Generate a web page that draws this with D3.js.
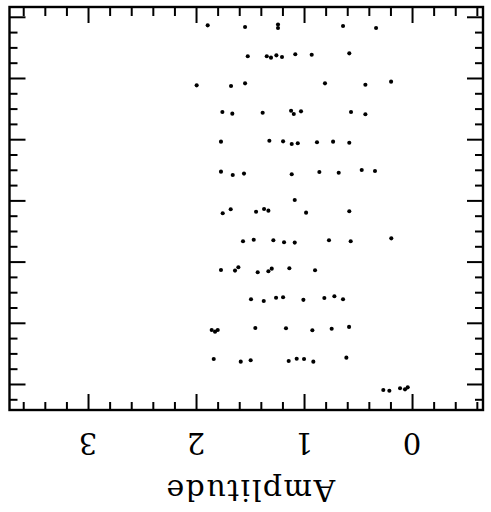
<!DOCTYPE html>
<html><head><meta charset="utf-8">
<script src="https://cdn.jsdelivr.net/npm/d3@7/dist/d3.min.js"></script>
<style>html,body{margin:0;padding:0;background:#fff;} svg{display:block;}</style>
</head><body>
<script>
// Tick labels and title
const xTickValues = [0, 1, 2, 3];
const xTickLabels = ["0", "1", "2", "3"];
const axisTitle = "Amplitude";

// Amplitude of every dot, one list per row (top row first)
const rowAmplitudes = [
  [1.892, 1.546, 1.241, 1.241, 0.639, 0.333],
  [1.521, 1.345, 1.306, 1.256, 1.204, 1.081, 0.929, 0.581],
  [1.994, 1.676, 1.546, 0.806, 0.432, 0.194],
  [1.756, 1.664, 1.383, 1.120, 1.095, 1.028, 0.565, 0.432],
  [1.769, 1.321, 1.194, 1.114, 1.058, 0.880, 0.731, 0.581],
  [1.769, 1.660, 1.556, 1.114, 0.858, 0.679, 0.466, 0.343],
  [1.753, 1.679, 1.444, 1.370, 1.330, 1.086, 0.981, 0.581],
  [1.565, 1.466, 1.284, 1.185, 1.086, 0.769, 0.568, 0.192],
  [1.769, 1.639, 1.608, 1.429, 1.330, 1.299, 1.136, 0.898],
  [1.491, 1.373, 1.259, 1.194, 1.006, 0.812, 0.719, 0.639],
  [1.855, 1.824, 1.799, 1.451, 1.167, 0.923, 0.744, 0.583],
  [1.836, 1.586, 1.494, 1.142, 1.068, 1.000, 0.914, 0.608],
  [0.266, 0.210, 0.111, 0.065, 0.040]
];

// Vertical position of every dot (in vertical tick units), same order
const rowPositions = [
  [0.56, 0.67, 0.50, 0.73, 0.60, 0.73],
  [2.58, 2.58, 2.67, 2.52, 2.63, 2.45, 2.48, 2.39],
  [4.48, 4.52, 4.35, 4.35, 4.44, 4.24],
  [6.22, 6.33, 6.27, 6.14, 6.35, 6.18, 6.22, 6.37],
  [8.16, 8.10, 8.14, 8.31, 8.27, 8.20, 8.16, 8.23],
  [10.12, 10.34, 10.25, 10.29, 10.14, 10.19, 10.01, 10.08],
  [12.84, 12.58, 12.74, 12.56, 12.67, 11.97, 12.80, 12.71],
  [14.67, 14.57, 14.61, 14.74, 14.76, 14.61, 14.67, 14.48],
  [16.55, 16.59, 16.37, 16.70, 16.63, 16.46, 16.44, 16.57],
  [18.46, 18.58, 18.36, 18.33, 18.50, 18.38, 18.27, 18.46],
  [20.47, 20.58, 20.47, 20.34, 20.36, 20.49, 20.39, 20.27],
  [22.37, 22.54, 22.45, 22.50, 22.35, 22.37, 22.54, 22.28],
  [24.39, 24.44, 24.28, 24.35, 24.22]
];

const W = 491, H = 512;
const L = 9.5, R = 483, T = 7, B = 410;
const x = d3.scaleLinear().domain([3.727, -0.657]).range([L, R]);
const y = d3.scaleLinear().domain([-0.64, 25.7]).range([T, B]);

const svg = d3.select("body").append("svg").attr("width", W).attr("height", H);

const points = [];
rowAmplitudes.forEach((amps, i) => amps.forEach((a, j) => points.push({a, p: rowPositions[i][j]})));

svg.append("g").selectAll("circle").data(points).join("circle")
  .attr("cx", d => x(d.a)).attr("cy", d => y(d.p)).attr("r", 2.05).attr("fill", "#000");

const xMinor = d3.range(-3, 19).map(i => +(i * 0.2).toFixed(1)).filter(v => !xTickValues.includes(v));
const yMinor = d3.range(0, 26).filter(v => v % 4 !== 0);
const yMajor = d3.range(0, 25, 4);

function axisG(axis, tx, ty) {
  const g = svg.append("g").attr("transform", `translate(${tx},${ty})`).call(axis);
  g.select(".domain").remove();
  g.selectAll("text").remove();
  g.selectAll("line").attr("stroke", "#000").attr("stroke-width", 2);
  return g;
}
// bottom axis, ticks pointing inward
axisG(d3.axisBottom(x).tickValues(xMinor).tickSize(-8), 0, B);
axisG(d3.axisBottom(x).tickValues(xTickValues).tickSize(-16), 0, B);
// top axis
axisG(d3.axisTop(x).tickValues(xMinor).tickSize(-9), 0, T);
axisG(d3.axisTop(x).tickValues(xTickValues).tickSize(-16), 0, T);
// left axis
axisG(d3.axisLeft(y).tickValues(yMinor).tickSize(-8), L, 0);
axisG(d3.axisLeft(y).tickValues(yMajor).tickSize(-16), L, 0);
// right axis
axisG(d3.axisRight(y).tickValues(yMinor).tickSize(-8), R, 0);
axisG(d3.axisRight(y).tickValues(yMajor).tickSize(-16), R, 0);

svg.append("rect").attr("x", L).attr("y", T).attr("width", R - L).attr("height", B - T)
  .attr("fill", "none").attr("stroke", "#000").attr("stroke-width", 2.4);

// upside-down tick labels
const font = "'DejaVu Serif', serif";
const labY = 433;
svg.append("g").selectAll("text").data(xTickValues).join("text")
  .attr("x", d => x(d)).attr("y", labY)
  .attr("transform", d => `rotate(180,${x(d)},${labY})`)
  .attr("text-anchor", "middle").attr("font-family", font).attr("font-size", 29)
  .attr("fill", "#000").text((d, i) => xTickLabels[i]);

const tY = 480;
svg.append("text").attr("x", x(1.5)).attr("y", tY)
  .attr("transform", `rotate(180,${x(1.5)},${tY})`)
  .attr("text-anchor", "middle").attr("font-family", font).attr("font-size", 30)
  .attr("letter-spacing", 1.5).attr("fill", "#000").text(axisTitle);
</script>
</body></html>
